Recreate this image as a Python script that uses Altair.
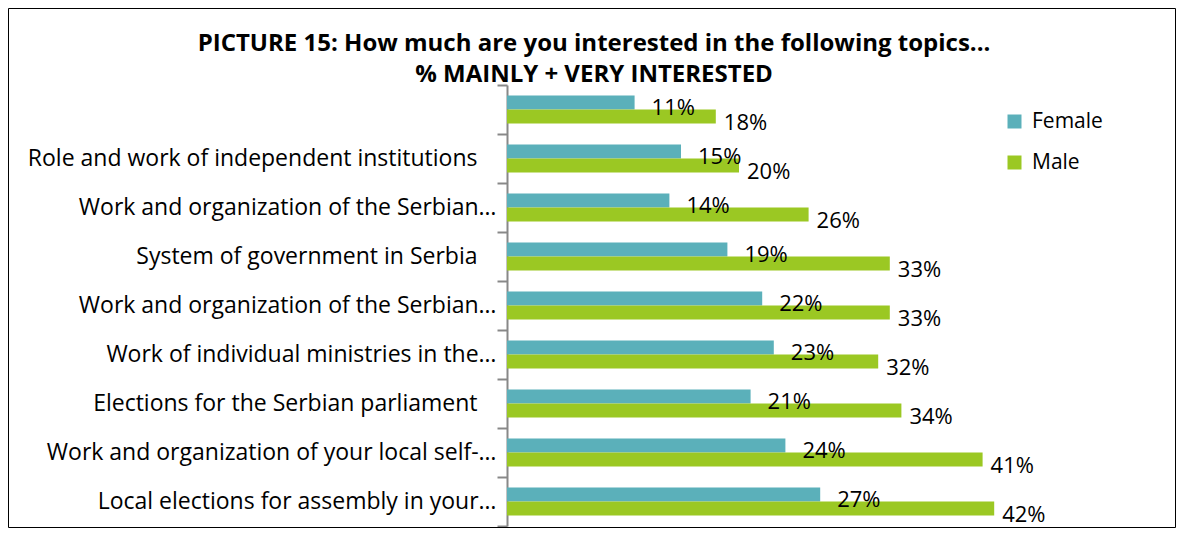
import altair as alt
import pandas as pd

categories = [
    "\u00a0",
    "Role and work of independent institutions",
    "Work and organization of the Serbian…",
    "System of government in Serbia",
    "Work and organization of the Serbian…\u200b",
    "Work of individual ministries in the…",
    "Elections for the Serbian parliament",
    "Work and organization of your local self-…",
    "Local elections for assembly in your…",
]
female = [11, 15, 14, 19, 22, 23, 21, 24, 27]
male = [18, 20, 26, 33, 33, 32, 34, 41, 42]
series = ["Female", "Male"]
colors = ["#5BB0BA", "#9BC823"]
title_lines = [
    "PICTURE 15: How much are you interested in the following topics...",
    "% MAINLY + VERY INTERESTED",
]

rows = []
for c, f, m in zip(categories, female, male):
    rows.append({"topic": c, "gender": "Female", "value": f})
    rows.append({"topic": c, "gender": "Male", "value": m})
df = pd.DataFrame(rows)
df["label"] = df["value"].astype(str) + "%"

FONT = "Open Sans"
PLOT_W = 580
PLOT_H = 441

y_enc = alt.Y(
    "topic:N",
    sort=categories,
    title=None,
    scale=alt.Scale(paddingInner=0, paddingOuter=0),
    axis=alt.Axis(
        tickBand="extent",
        tickSize=10,
        tickColor="#888888",
        tickWidth=2,
        domainColor="#888888",
        domainWidth=2,
        labelFont=FONT,
        labelFontSize=23,
        labelColor="black",
        labelLimit=0,
        labelPadding={
            "condition": {"test": "slice(datum.label, -1) != '…' && slice(datum.label, -1) != '\u200b'", "value": 20},
            "value": 1,
        },
        grid=False,
    ),
)
yoff = alt.YOffset("gender:N", sort=series, scale=alt.Scale(paddingInner=0, paddingOuter=0.75))
x_enc = alt.X("value:Q", scale=alt.Scale(domain=[0, 50]), axis=None)

base = alt.Chart(df)

bars = base.mark_bar().encode(
    x=x_enc,
    y=y_enc,
    yOffset=yoff,
    color=alt.Color(
        "gender:N",
        sort=series,
        scale=alt.Scale(domain=series, range=colors),
        legend=alt.Legend(
            title=None,
            orient="none",
            legendX=497,
            legendY=26,
            symbolType="square",
            symbolSize=196,
            symbolStrokeWidth=0,
            labelFont=FONT,
            labelFontSize=21,
            labelColor="black",
            labelOffset=7,
            rowPadding=19,
            padding=0,
        ),
    ),
)

text_f = base.transform_filter(alt.datum.gender == "Female").mark_text(
    align="left", baseline="middle", dx=17, dy=5, font=FONT, fontSize=22, color="black"
).encode(x=x_enc, y=y_enc, yOffset=yoff, text="label:N")

text_m = base.transform_filter(alt.datum.gender == "Male").mark_text(
    align="left", baseline="middle", dx=8, dy=6, font=FONT, fontSize=22, color="black"
).encode(x=x_enc, y=y_enc, yOffset=yoff, text="label:N")

frame = alt.Chart(pd.DataFrame({"f": [0]})).mark_rect(
    fill="transparent", stroke="black", strokeWidth=1
).encode(
    x=alt.value(-498.5), x2=alt.value(668.5), y=alt.value(-76.5), y2=alt.value(442.5)
)

chart = alt.layer(frame, bars, text_f, text_m).properties(
    width=PLOT_W,
    height=PLOT_H,
    autosize=alt.AutoSizeParams(type="none"),
    padding={"left": 499, "top": 77, "right": 89, "bottom": 2},
    title=alt.TitleParams(
        text=title_lines,
        font=FONT,
        fontSize=24,
        fontWeight="bold",
        color="black",
        anchor="middle",
        frame="group",
        dx=-203,
        offset=-79,
        lineHeight=31,
    ),
).configure_view(strokeWidth=0)

chart.save("out.html", embed_options={"renderer": "svg", "actions": False})
